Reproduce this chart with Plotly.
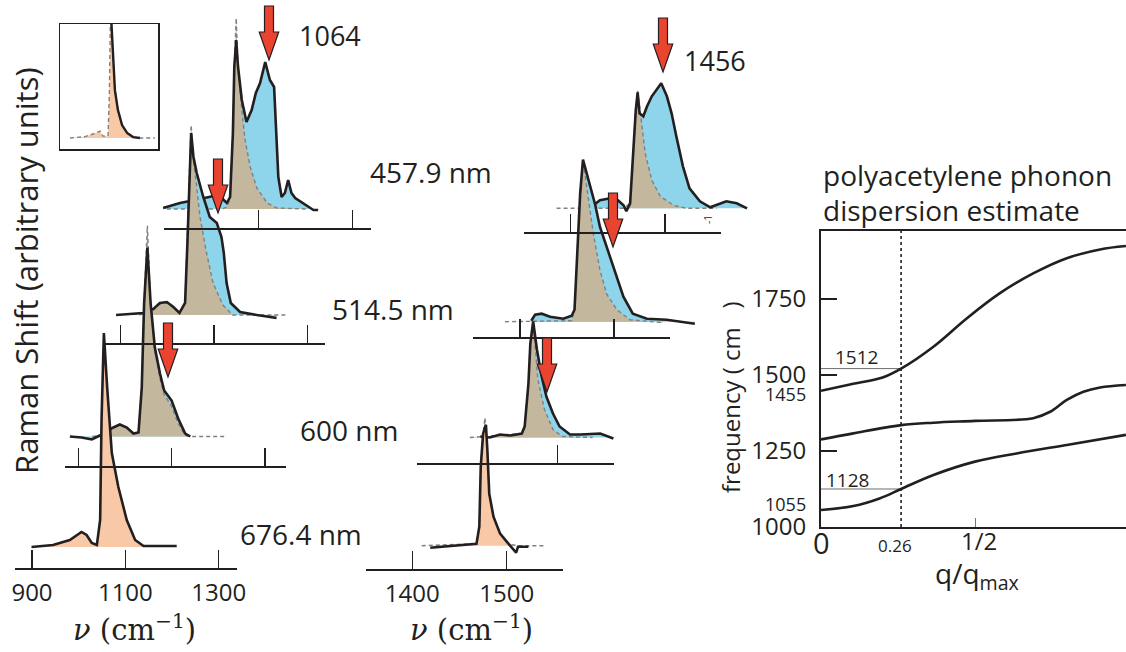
import plotly.graph_objects as go

# ======================= DATA =======================
# Raman spectra (wavenumber in cm^-1, intensity in arbitrary units)
# --- left panel (C-C stretch region) ---
l457_nu = [896, 932, 975, 1003, 1021, 1032, 1039, 1045, 1048, 1052, 1056, 1064, 1074, 1085, 1094,
           1103, 1114, 1124, 1133, 1137, 1142, 1149, 1156, 1163, 1170, 1178, 1195, 1217, 1227]
l457_int = [0.01, 0.06, 0.10, 0.13, 0.11, 0.06, 0.12, 0.76, 1.42, 1.69, 1.42, 1.09, 0.87, 0.99, 1.16,
            1.26, 1.47, 1.29, 1.22, 0.76, 0.32, 0.12, 0.16, 0.29, 0.16, 0.11, 0.06, -0.01, -0.01]
l457_fit_nu = [904, 1021, 1032, 1039, 1045, 1048, 1052, 1056, 1064, 1071, 1082, 1096, 1118, 1139, 1205]
l457_fit_int = [0, 0, 0.02, 0.10, 0.76, 1.42, 1.91, 1.42, 0.99, 0.69, 0.42, 0.21, 0.06, 0.01, 0]

l514_nu = [890, 948, 970, 984, 999, 1013, 1026, 1038, 1043, 1047, 1051, 1056, 1063, 1077, 1091,
           1106, 1116, 1121, 1127, 1136, 1156, 1192, 1234]
l514_int = [0, 0.02, 0.06, 0.12, 0.13, 0.08, 0.02, 0.12, 0.72, 1.38, 1.82, 1.58, 1.42, 1.18, 0.98,
            0.92, 0.78, 0.62, 0.32, 0.12, 0.03, 0, -0.03]
l514_fit_nu = [940, 970, 984, 999, 1013, 1026, 1038, 1043, 1047, 1051, 1056, 1063, 1070, 1084, 1098,
               1119, 1140, 1255]
l514_fit_int = [0, 0.05, 0.11, 0.12, 0.07, 0.02, 0.12, 0.72, 1.38, 1.90, 1.55, 1.28, 0.98, 0.62, 0.32,
                0.10, 0.0, 0]

l600_nu = [882, 907, 929, 946, 975, 989, 1004, 1018, 1029, 1036, 1041, 1048, 1055, 1064, 1075,
           1084, 1100, 1114, 1129, 1140]
l600_int = [0, -0.01, -0.03, 0.01, 0.09, 0.12, 0.09, 0.03, 0.04, 0.49, 1.33, 1.89, 1.33, 0.89, 0.63,
            0.46, 0.36, 0.18, 0.03, 0]
l600_fit_nu = [930, 946, 975, 989, 1004, 1018, 1029, 1036, 1041, 1048, 1055, 1064, 1075, 1084, 1100,
               1114, 1129, 1140, 1219]
l600_fit_int = [0, 0.01, 0.09, 0.12, 0.09, 0.03, 0.04, 0.49, 1.33, 2.11, 1.30, 0.85, 0.58, 0.42, 0.30,
                0.13, 0.01, 0, 0]

l676_nu = [899, 945, 981, 1006, 1017, 1028, 1039, 1046, 1049, 1054, 1061, 1071, 1085, 1103, 1121, 1139, 1210]
l676_int = [0, 0.02, 0.07, 0.15, 0.12, 0.04, 0.02, 0.27, 1.27, 2.14, 1.60, 0.94, 0.60, 0.27, 0.07, 0.01, 0.01]

# inset (zoom of the 676.4 nm line)
inset_nu = [1052, 1054, 1058, 1063, 1071, 1084, 1102, 1124, 1150, 1180]
inset_int = [2.87, 2.67, 2.13, 1.70, 1.04, 0.61, 0.28, 0.11, 0.02, 0]
inset_fit_nu = [876, 941, 984, 1006, 1019, 1041, 1047, 1052, 1054, 1058, 1063, 1071, 1084, 1102, 1124,
                1150, 1180, 1245]
inset_fit_int = [0, 0.03, 0.10, 0.15, 0.04, 0.04, 1.0, 2.87, 2.67, 2.13, 1.70, 1.04, 0.61, 0.28, 0.11,
                 0.02, 0, 0]

# --- middle panel (C=C stretch region) ---
m457_nu = [1424, 1431, 1442, 1450, 1456, 1459, 1463, 1466, 1469, 1471, 1473, 1477, 1481, 1486, 1491,
           1496, 1502, 1507, 1512, 1519, 1526, 1537, 1548, 1553, 1565, 1576, 1587]
m457_int = [0.03, 0.08, 0.10, 0.08, 0.03, -0.03, 0.05, 0.55, 0.98, 1.16, 0.95, 0.92, 1.02, 1.12, 1.18,
            1.25, 1.12, 0.95, 0.72, 0.42, 0.20, 0.07, 0.01, 0.03, 0.07, 0.05, 0.0]
m457_fit_nu = [1385, 1456, 1463, 1466, 1469, 1471, 1475, 1479, 1486, 1495, 1509, 1523, 1555]
m457_fit_int = [0, 0, 0.05, 0.55, 0.98, 1.18, 0.88, 0.55, 0.28, 0.12, 0.03, 0, 0]

m514_nu = [1412, 1416, 1423, 1432, 1446, 1455, 1458, 1461, 1464, 1467, 1473, 1480, 1485, 1492, 1496,
           1503, 1510, 1520, 1535, 1556, 1586]
m514_int = [0.01, 0.07, 0.08, 0.05, 0.03, 0.06, 0.12, 0.72, 1.28, 1.62, 1.42, 1.17, 0.95, 0.75, 0.65,
            0.45, 0.25, 0.08, 0.03, 0.02, -0.02]
m514_fit_nu = [1384, 1455, 1458, 1461, 1464, 1467, 1473, 1478, 1485, 1492, 1503, 1517, 1552]
m514_fit_int = [0, 0.01, 0.12, 0.72, 1.28, 1.62, 1.22, 0.88, 0.52, 0.28, 0.12, 0.02, -0.01]

m600_nu = [1418, 1428, 1439, 1450, 1462, 1465, 1469, 1471, 1474, 1478, 1483, 1488, 1495, 1502, 1513,
           1524, 1545, 1554, 1559]
m600_int = [0.01, 0.0, 0.03, 0.02, 0.04, 0.11, 0.54, 0.94, 1.16, 0.88, 0.61, 0.41, 0.24, 0.11, 0.03,
            0.03, 0.04, 0.01, -0.01]
m600_fit_nu = [1407, 1462, 1465, 1469, 1471, 1474, 1479, 1486, 1495, 1505, 1537]
m600_fit_int = [0, 0.04, 0.11, 0.54, 0.94, 1.16, 0.58, 0.28, 0.08, 0.01, 0]

m676_nu = [1419, 1440, 1468, 1471, 1472.5, 1475, 1478, 1479.5, 1481.5, 1486, 1493, 1500, 1505, 1510, 1512, 1523]
m676_int = [-0.02, 0.0, 0.02, 0.19, 0.79, 1.12, 1.21, 0.96, 0.52, 0.29, 0.12, 0.04, -0.01, -0.07, -0.01, -0.01]
m676_fit_nu = [1410, 1440, 1468, 1471, 1472.5, 1475, 1477, 1479.5, 1481.5, 1486, 1493, 1500, 1505, 1512, 1542]
m676_fit_int = [0, 0.01, 0.02, 0.19, 0.79, 1.12, 1.28, 0.96, 0.52, 0.29, 0.12, 0.04, 0.01, 0, 0]

excitation_labels = ["457.9 nm", "514.5 nm", "600 nm", "676.4 nm"]
left_ticks = [900, 1100, 1300]
mid_ticks = [1400, 1500]
peak_labels = ["1064", "1456"]

# --- phonon dispersion estimate ---
q_upper = [0, 0.094, 0.2, 0.26, 0.365, 0.473, 0.581, 0.689, 0.798, 0.906, 0.99]
f_upper = [1448, 1469, 1492, 1521, 1593, 1686, 1769, 1834, 1884, 1913, 1924]
q_mid = [0, 0.105, 0.26, 0.365, 0.5, 0.689, 0.744, 0.798, 0.852, 0.906, 0.99]
f_mid = [1288, 1308, 1335, 1343, 1349, 1358, 1379, 1418, 1445, 1459, 1467]
q_low = [0, 0.105, 0.19, 0.26, 0.365, 0.5, 0.635, 0.798, 0.99]
f_low = [1056, 1069, 1094, 1125, 1171, 1215, 1242, 1270, 1303]
q_cut = 0.26
f_cut = [1521, 1125]
cut_labels = ["1512", "1128"]
zone_center_labels = ["1455", "1055"]
freq_ticks = [1000, 1250, 1500, 1750]

# ======================= STYLE / GEOMETRY =======================
W, H = 1126, 652
BLUE = "#8ed4ea"
TAN = "#c3b79d"
PEACH = "#f9c8a6"
RED = "#ea4330"
INK = "#231f20"
DASH = "#808080"
FONT = "Open Sans"
SERIF = "DejaVu Serif"
S = 100.0  # px per intensity unit


def px(x):
    return x / W


def py(y):
    return 1 - y / H


# ref wavenumber, its px position, px per cm^-1, baseline px, ruler px y, ruler px extent, ticks, show labels
GEOM = [
    ("L457", 900, 165.0, 0.4683, 209.0, 228.0, (164.0, 371.0), left_ticks, False),
    ("L514", 900, 120.7, 0.4665, 315.0, 342.7, (105.0, 325.0), left_ticks, False),
    ("L600", 900, 78.3, 0.4667, 436.5, 465.5, (65.0, 286.0), left_ticks, False),
    ("L676", 900, 32.0, 0.4667, 547.0, 568.0, (15.0, 237.0), left_ticks, True),
    ("M457", 1400, 570.7, 0.943, 208.3, 231.7, (524.0, 721.0), mid_ticks, False),
    ("M514", 1400, 520.0, 0.940, 321.7, 336.7, (473.0, 670.0), mid_ticks, False),
    ("M600", 1400, 463.3, 0.944, 437.5, 462.7, (417.0, 614.0), [1500], False),
    ("M676", 1400, 412.3, 0.944, 545.7, 569.0, (366.0, 563.0), mid_ticks, True),
]
SPECTRA = {
    "L457": (l457_nu, l457_int, l457_fit_nu, l457_fit_int, False),
    "L514": (l514_nu, l514_int, l514_fit_nu, l514_fit_int, False),
    "L600": (l600_nu, l600_int, l600_fit_nu, l600_fit_int, False),
    "L676": (l676_nu, l676_int, None, None, True),
    "M457": (m457_nu, m457_int, m457_fit_nu, m457_fit_int, False),
    "M514": (m514_nu, m514_int, m514_fit_nu, m514_fit_int, False),
    "M600": (m600_nu, m600_int, m600_fit_nu, m600_fit_int, False),
    "M676": (m676_nu, m676_int, m676_fit_nu, m676_fit_int, True),
}

fig = go.Figure()
layout = {}


def sfx(i):
    return "" if i == 1 else str(i)


def add_line(i, x, y, **kw):
    fig.add_trace(go.Scatter(x=x, y=y, mode="lines", xaxis="x" + sfx(i), yaxis="y" + sfx(i),
                             showlegend=False, hoverinfo="skip", **kw))


# ---------- subplot 1 : dispersion ----------
Q0, Q1 = 0.0, (W - 821) / 308.0
F0, F1 = 1000.0, 1000.0 + 296 * 3.289
layout["xaxis"] = dict(domain=[px(821), 1.0], range=[Q0, Q1], anchor="y", showline=True, mirror=True,
                       linecolor=INK, linewidth=2, ticks="inside", tickvals=[0.5], ticklen=9, tickwidth=1,
                       tickcolor="#777", showticklabels=False, showgrid=False, zeroline=False, fixedrange=True)
layout["yaxis"] = dict(domain=[py(527), py(231)], range=[F0, F1], anchor="x", showline=True,
                       linecolor=INK, linewidth=2, ticks="inside", tickvals=freq_ticks, ticklen=16,
                       tickwidth=2, tickcolor=INK, tickfont=dict(size=24, color=INK, family=FONT),
                       ticklabelstandoff=8, showgrid=False, zeroline=False, fixedrange=True)
for fc in f_cut:
    add_line(1, [0, q_cut], [fc, fc], line=dict(color="#6d6d6d", width=1))
add_line(1, [q_cut, q_cut], [F0, F1], line=dict(color=INK, width=1.6, dash="dot"))
for qq, ff in [(q_upper, f_upper), (q_mid, f_mid), (q_low, f_low)]:
    add_line(1, qq, ff, line=dict(color=INK, width=2.6, shape="spline", smoothing=1.0))

# ---------- subplot 2 : inset ----------
ix0, ix1, iy0, iy1 = 60, 158, 24, 149
inset_k, inset_s, inset_base, inset_ref_px, inset_ref = 0.23, 46.0, 138.0, 111.0, 1054.0
layout["xaxis2"] = dict(domain=[px(ix0), px(ix1)],
                        range=[inset_ref + (ix0 - inset_ref_px) / inset_k, inset_ref + (ix1 - inset_ref_px) / inset_k],
                        anchor="y2", showline=True, mirror=True, linecolor=INK, linewidth=1.5,
                        ticks="", showticklabels=False, showgrid=False, zeroline=False, fixedrange=True)
layout["yaxis2"] = dict(domain=[py(iy1), py(iy0)],
                        range=[-(iy1 - inset_base) / inset_s, (inset_base - iy0) / inset_s],
                        anchor="x2", showline=True, mirror=True, linecolor=INK, linewidth=1.5,
                        ticks="", showticklabels=False, showgrid=False, zeroline=False, fixedrange=True)
add_line(2, inset_fit_nu, inset_fit_int, fill="tozeroy", fillcolor=PEACH, line=dict(width=0))
add_line(2, inset_fit_nu, inset_fit_int, line=dict(color=DASH, width=1.4, dash="4px,3px"))
add_line(2, inset_nu, inset_int, line=dict(color=INK, width=2.4))

# ---------- spectra data subplots (3..10) and rulers (11..18) ----------
for n, (key, ref, pref, k, base, ry, (rx0, rx1), ticks, labels) in enumerate(GEOM):
    i = 3 + n
    layout["xaxis" + sfx(i)] = dict(domain=[0, 1], range=[ref - pref / k, ref + (W - pref) / k],
                                    anchor="y" + sfx(i), visible=False, fixedrange=True)
    layout["yaxis" + sfx(i)] = dict(domain=[0, 1], range=[(base - H) / S, base / S],
                                    anchor="x" + sfx(i), visible=False, fixedrange=True)
    nu, inten, fnu, fint, peach = SPECTRA[key]
    if peach:
        src = (fnu, fint) if fnu else (nu, inten)
        add_line(i, src[0], src[1], fill="tozeroy", fillcolor=PEACH, line=dict(width=0))
    else:
        add_line(i, nu, inten, fill="tozeroy", fillcolor=BLUE, line=dict(width=0))
        add_line(i, fnu, fint, fill="tozeroy", fillcolor=TAN, line=dict(width=0))
    if fnu:
        add_line(i, fnu, fint, line=dict(color=DASH, width=1.4, dash="4px,3px"))
    add_line(i, nu, inten, line=dict(color=INK, width=2.6))

    r = 11 + n
    layout["xaxis" + sfx(r)] = dict(domain=[px(rx0), px(rx1)],
                                    range=[ref + (rx0 - pref) / k, ref + (rx1 - pref) / k],
                                    anchor="y" + sfx(r), showline=True, linecolor=INK, linewidth=2,
                                    ticks="inside", ticklen=18, tickwidth=1.5, tickcolor=INK,
                                    tickvals=ticks, showticklabels=labels,
                                    tickfont=dict(size=24, color=INK, family=FONT), ticklabelstandoff=2,
                                    showgrid=False, zeroline=False, fixedrange=True)
    layout["yaxis" + sfx(r)] = dict(domain=[py(ry), py(ry) + 0.01], range=[0, 1], anchor="x" + sfx(r),
                                    visible=False, fixedrange=True)
    add_line(r, [], [])

# ---------- text ----------
ann = []


def text(t, x, y, size, xanchor="center", yanchor="middle", family=FONT, angle=0):
    ann.append(dict(text=t, x=px(x), y=py(y), xref="paper", yref="paper", showarrow=False,
                    xanchor=xanchor, yanchor=yanchor, textangle=angle,
                    font=dict(size=size, family=family, color=INK)))


text("Raman Shift (arbitrary units)", 26, 271, 31, angle=-90)
for lab, (x, y) in zip(excitation_labels, [(368, 172), (330, 309), (298, 430), (238, 534)]):
    text(lab, x, y, 28, xanchor="left")
for lab, (x, y) in zip(peak_labels, [(297, 35), (682, 60)]):
    text(lab, x, y, 27, xanchor="left")
for x in (134, 471):
    text("<i>ν</i> (cm<sup>−1</sup>)", x, 628, 29, family=SERIF)
text("polyacetylene phonon", 821, 175, 28, xanchor="left")
text("dispersion estimate", 821, 210, 28, xanchor="left")
text(zone_center_labels[0], 808, 394, 18, xanchor="right")
text(zone_center_labels[1], 808, 504, 18, xanchor="right")
text(cut_labels[0], 833, 357, 19, xanchor="left")
text(cut_labels[1], 824, 480, 19, xanchor="left")
text("0", 821, 542, 29)
text("0.26", 895, 545, 17)
text("1/2", 979, 540, 24)
text("q/q<sub>max</sub>", 977, 575, 28)
text("frequency ( cm\u00a0\u00a0\u00a0)", 730, 397, 24, angle=-90)
text("-1", 708, 220, 10, angle=-90)

# ---------- red arrows marking peaks ----------
shapes = []


def arrow(tx, ty, length=54, head=28, shaft=4.5, half=9.75):
    pts = [(tx - shaft, ty - length), (tx + shaft, ty - length), (tx + shaft, ty - head),
           (tx + half, ty - head), (tx, ty), (tx - half, ty - head), (tx - shaft, ty - head)]
    path = "M " + " L ".join(f"{px(a):.5f},{py(b):.5f}" for a, b in pts) + " Z"
    shapes.append(dict(type="path", path=path, xref="paper", yref="paper", fillcolor=RED,
                       line=dict(color=INK, width=1.2), layer="above"))


for tx, ty in [(269, 60), (218, 213), (168, 377), (663, 72), (613, 247), (547, 392)]:
    arrow(tx, ty)

fig.update_layout(template="none", width=W, height=H, margin=dict(l=0, r=0, t=0, b=0),
                  paper_bgcolor="white", plot_bgcolor="rgba(0,0,0,0)", showlegend=False,
                  hovermode=False, font=dict(family=FONT, color=INK), annotations=ann, shapes=shapes,
                  **layout)
# remove the browser's default 8px body margin so the figure starts at the window corner
fig.write_html("out.html", config={"displayModeBar": False, "staticPlot": True},
               post_script="document.body.style.margin='0';document.body.style.overflow='hidden';")
